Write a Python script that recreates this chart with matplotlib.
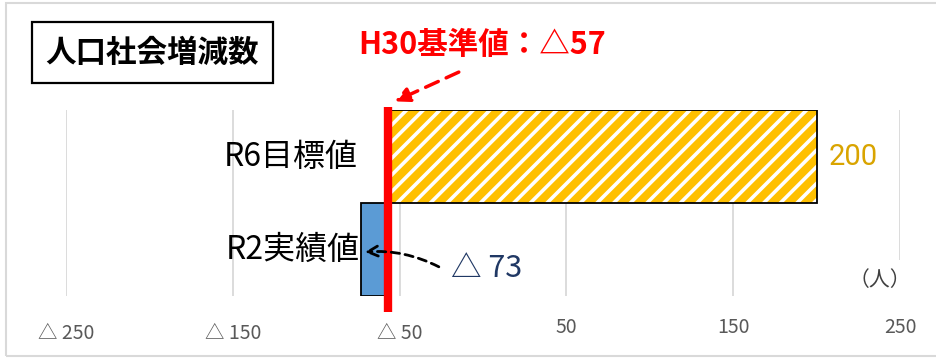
import matplotlib
matplotlib.use('Agg')
import matplotlib.pyplot as plt
import matplotlib.transforms as mtransforms
from matplotlib.patches import Rectangle

plt.rcParams['font.family'] = ['Noto Sans CJK JP', 'DejaVu Sans']
plt.rcParams['hatch.linewidth'] = 2.6

W, H, DPI = 936, 358, 100

# H30 baseline and bar data
BASE = -57
categories = ["R2実績値", "R6目標値"]
values = [-73, 200]
bar_colors = ["#5b9bd5", "#ffc000"]
value_labels = ["△ 73", "200"]
label_colors = ["#203864", "#d9a400"]

xticks = [-250, -150, -50, 50, 150, 250]
xtick_labels = ["△ 250", "△ 150", "△ 50", "50", "150", "250"]


def fx(px):
    return px / W


def fy(py):
    return 1 - py / H


fig = plt.figure(figsize=(W / DPI, H / DPI), dpi=DPI)
ax = fig.add_axes([fx(66), fy(296), fx(900) - fx(66), fy(110) - fy(296)])

ypos = list(range(len(categories)))
widths = [v - BASE for v in values]

# hatched target bar: fill + white stripes, then black outline on top
ax.barh(ypos[1], widths[1], left=BASE, height=1.0, color=bar_colors[1],
        edgecolor='white', hatch='//', linewidth=0, zorder=2)
ax.barh(ypos[1], widths[1], left=BASE, height=1.0, facecolor='none',
        edgecolor='black', linewidth=1.3, zorder=3)
ax.barh(ypos[0], widths[0], left=BASE, height=1.0, color=bar_colors[0],
        edgecolor='black', linewidth=1.3, zorder=3)

ax.set_xlim(-250, 250)
ax.set_ylim(-0.5, 1.5)
ax.set_xticks(xticks)
ax.set_xticklabels(xtick_labels, fontsize=14, color='#595959')
ax.tick_params(axis='x', length=0, pad=15)
# negative labels sit a little lower than the positive ones
shift = mtransforms.ScaledTranslation(0, -6 / DPI, fig.dpi_scale_trans)
for v, lab in zip(xticks, ax.get_xticklabels()):
    if v < 0:
        lab.set_transform(lab.get_transform() + shift)
ax.set_yticks([])
for s in ax.spines.values():
    s.set_visible(False)
ax.grid(axis='x', color='#d9d9d9', linewidth=1.3, zorder=0)
ax.set_axisbelow(True)

# category names to the left of the bars
for y, name in zip(ypos, categories):
    ax.text(BASE - 18 if y == 1 else values[0] - 1, y, name, ha='right',
            va='center', fontsize=23, color='black')

# value labels
ax.text(values[1] + 7, ypos[1], value_labels[1], ha='left', va='center',
        fontsize=21, color=label_colors[1], family='Roboto')
ax.text(-19, -0.2, value_labels[0], ha='left', va='center', fontsize=22,
        color=label_colors[0])
ax.annotate('', xy=(-72.5, -0.03), xytext=(-25, -0.2),
            arrowprops=dict(arrowstyle='->', color='black', lw=2,
                            linestyle=(0, (3, 2)), mutation_scale=18,
                            connectionstyle='arc3,rad=0.15'),
            annotation_clip=False, zorder=5)

# H30 baseline marker
ax.plot([BASE, BASE], [-0.67, 1.53], color='#ff0000', linewidth=6,
        clip_on=False, zorder=4, solid_capstyle='butt')
ax.annotate('', xy=(-54.5, 1.58), xytext=(-13, 1.92),
            arrowprops=dict(arrowstyle='-|>', color='#ff0000', lw=2.5,
                            linestyle=(0, (4, 2.5)), mutation_scale=22),
            annotation_clip=False, zorder=5)
fig.text(fx(358), fy(45), "H30基準値：△57", ha='left', va='center',
         fontsize=22, fontweight='bold', color='#ff0000')

# unit label masks the end of the last gridline
ax.text(238, -0.33, "（人）", ha='center', va='center', fontsize=15,
        color='#404040',
        bbox=dict(boxstyle='square,pad=0.45', facecolor='white', edgecolor='none'),
        zorder=3)

# boxed title
fig.add_artist(Rectangle((fx(32), fy(83)), fx(273) - fx(32), fy(22) - fy(83),
                         transform=fig.transFigure, facecolor='white',
                         edgecolor='black', linewidth=1.6))
fig.text(fx(152), fy(53), "人口社会増減数", ha='center', va='center',
         fontsize=22, fontweight='bold', color='black')

# outer frame
fig.add_artist(Rectangle((fx(6), fy(356)), fx(945) - fx(6), fy(3) - fy(356),
                         transform=fig.transFigure, facecolor='none',
                         edgecolor='#d9d9d9', linewidth=1.5))

fig.savefig('out.png', dpi=DPI)
